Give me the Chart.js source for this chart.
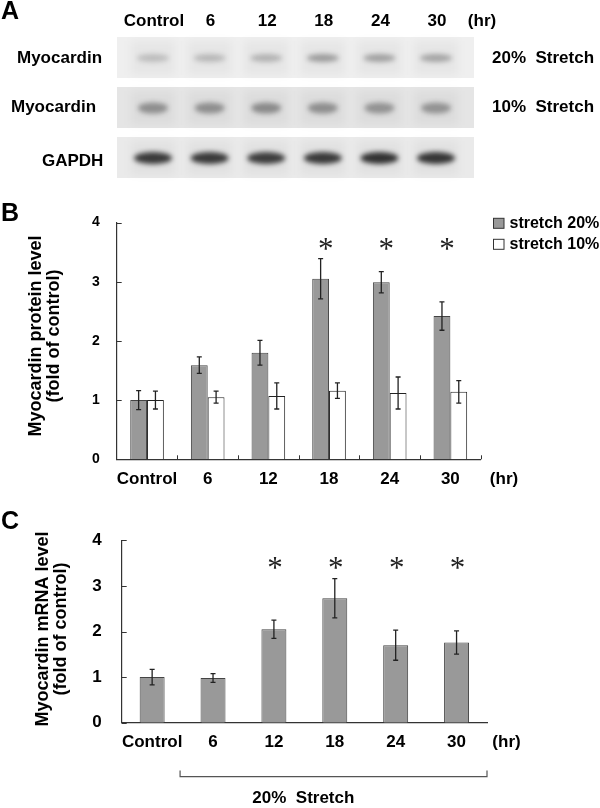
<!DOCTYPE html>
<html>
<head>
<meta charset="utf-8">
<script src="https://cdn.jsdelivr.net/npm/chart.js@4.4.1/dist/chart.umd.min.js"></script>
<style>
    body { margin: 0; background: #fff; }
    #wrap { position: relative; width: 600px; height: 808px; background: #fff; overflow: hidden; }
    canvas { position: absolute; left: 0; }
</style>
</head>
<body>
<div id="wrap">
    <canvas id="blotChart" width="600" height="190" style="top:0px"></canvas>
    <canvas id="proteinChart" width="600" height="310" style="top:190px"></canvas>
    <canvas id="mrnaChart" width="600" height="308" style="top:500px"></canvas>
</div>
<script>
const timeLabels = ['Control', '6', '12', '18', '24', '30'];
const yTicks = [0, 1, 2, 3, 4];

// panel A: band darkness (0 = blank, 1 = black)
const blotRowNames = ['Myocardin', 'Myocardin', 'GAPDH'];
const blotSideNames = ['20%  Stretch', '10%  Stretch', ''];
const band20 = [0.20, 0.22, 0.25, 0.36, 0.34, 0.32];
const band10 = [0.40, 0.40, 0.42, 0.40, 0.38, 0.38];
const bandGapdh = [0.84, 0.84, 0.82, 0.84, 0.88, 0.86];

// panel B: protein, fold of control
const protein20 = [1.00, 1.59, 1.80, 3.05, 2.99, 2.42];
const protein20Err = [0.16, 0.14, 0.21, 0.34, 0.18, 0.24];
const protein10 = [1.00, 1.05, 1.07, 1.16, 1.12, 1.14];
const protein10Err = [0.15, 0.10, 0.22, 0.13, 0.27, 0.19];
const proteinSig = [false, false, false, true, true, true];

// panel C: mRNA, fold of control
const mrna20 = [1.00, 0.98, 2.05, 2.73, 1.70, 1.76];
const mrna20Err = [0.17, 0.095, 0.20, 0.43, 0.33, 0.255];
const mrnaSig = [false, false, true, true, true, true];

const SANS = "'Liberation Sans', Arial, sans-serif";
Chart.defaults.font.family = SANS;
Chart.defaults.color = '#000';

function text(ctx, str, x, y, font, align) {
    ctx.save();
    ctx.font = font;
    ctx.fillStyle = '#000';
    ctx.textAlign = align || 'center';
    ctx.textBaseline = 'middle';
    ctx.fillText(str, x, y);
    ctx.restore();
}

// asterisk centred on its real ink box
function star(ctx, x, y) {
    ctx.save();
    ctx.font = "31px 'Liberation Serif', serif";
    ctx.fillStyle = '#222';
    ctx.textAlign = 'center';
    ctx.textBaseline = 'alphabetic';
    const m = ctx.measureText('*');
    const mid = (m.actualBoundingBoxAscent - m.actualBoundingBoxDescent) / 2;
    ctx.fillText('*', x, y + mid);
    ctx.restore();
}

const errorBars = {
    id: 'errorBars',
    afterDatasetsDraw(chart) {
        const ctx = chart.ctx;
        const y = chart.scales.y;
        chart.data.datasets.forEach((ds, di) => {
            chart.getDatasetMeta(di).data.forEach((bar, i) => {
                const top = y.getPixelForValue(ds.data[i] + ds.errors[i]);
                const bot = y.getPixelForValue(ds.data[i] - ds.errors[i]);
                ctx.save();
                ctx.strokeStyle = '#222';
                ctx.lineWidth = 1.3;
                ctx.beginPath();
                ctx.moveTo(bar.x, top); ctx.lineTo(bar.x, bot);
                ctx.moveTo(bar.x - 2.5, top); ctx.lineTo(bar.x + 2.5, top);
                ctx.moveTo(bar.x - 2.5, bot); ctx.lineTo(bar.x + 2.5, bot);
                ctx.stroke();
                ctx.restore();
            });
        });
    }
};

// y ticks point into the plot
function innerYTicks(chart) {
    const ctx = chart.ctx, y = chart.scales.y, left = chart.chartArea.left;
    ctx.save();
    ctx.strokeStyle = '#333';
    ctx.lineWidth = 1;
    ctx.beginPath();
    yTicks.forEach(t => {
        const py = Math.round(y.getPixelForValue(t)) + 0.5;
        ctx.moveTo(left, py); ctx.lineTo(left + 5, py);
    });
    ctx.stroke();
    ctx.restore();
}

// ---------- A: western blot ----------
const blotDraw = {
    id: 'blotDraw',
    beforeDatasetsDraw(chart) {
        const ctx = chart.ctx, x = chart.scales.x, y = chart.scales.y;
        const stripFill = ['#efefef', '#e5e5e5', '#eaeaea'];
        blotRowNames.forEach((n, r) => {
            const left = x.getPixelForValue(0) - 36;
            const right = x.getPixelForValue(timeLabels.length - 1) + 38;
            const cy = y.getPixelForValue(r);
            ctx.save();
            ctx.fillStyle = stripFill[r];
            ctx.fillRect(left, cy - 21, right - left, 41);
            // faint lane smear
            ctx.filter = 'blur(4px)';
            ctx.fillStyle = 'rgba(0,0,0,0.035)';
            timeLabels.forEach((t, i) => {
                const px = x.getPixelForValue(i);
                ctx.fillRect(px - 22, cy - 17, 44, 34);
            });
            ctx.restore();
        });
    },
    afterDatasetsDraw(chart) {
        const ctx = chart.ctx;
        const rx = [16, 15, 19], ry = [4, 5.5, 6];
        chart.data.datasets.forEach((ds, r) => {
            chart.getDatasetMeta(r).data.forEach((pt, i) => {
                ctx.save();
                ctx.filter = 'blur(2.5px)';
                ctx.fillStyle = 'rgba(25,25,25,' + ds.intensity[i] + ')';
                ctx.beginPath();
                ctx.ellipse(pt.x, pt.y, rx[r], ry[r], 0, 0, Math.PI * 2);
                ctx.fill();
                ctx.restore();
            });
        });
    },
    afterDraw(chart) {
        const ctx = chart.ctx, x = chart.scales.x, y = chart.scales.y;
        const f = 'bold 17px ' + SANS;
        text(ctx, 'A', 1, 12, 'bold 25px ' + SANS, 'left');
        timeLabels.forEach((t, i) => text(ctx, t, x.getPixelForValue(i) + 1, 21, f));
        text(ctx, '(hr)', x.getPixelForValue(timeLabels.length - 1) + 46, 21, f);
        const leftX = [17, 11, 42], dy = [0, -1, 3];
        blotRowNames.forEach((n, r) => {
            const cy = y.getPixelForValue(r) + dy[r];
            text(ctx, n, leftX[r], cy, f, 'left');
            if (blotSideNames[r]) text(ctx, blotSideNames[r], 492, cy, f, 'left');
        });
    }
};

new Chart(document.getElementById('blotChart'), {
    type: 'scatter',
    data: {
        datasets: [band20, band10, bandGapdh].map((row, r) => ({
            label: blotRowNames[r],
            data: row.map((v, i) => ({ x: i, y: r })),
            intensity: row,
            pointRadius: 0
        }))
    },
    options: {
        responsive: false,
        animation: false,
        layout: { padding: { left: 124.7, right: 135.7, top: 33, bottom: 7 } },
        plugins: { legend: { display: false }, tooltip: { enabled: false } },
        scales: {
            x: { type: 'linear', display: false, min: -0.5, max: 5.5 },
            y: { type: 'linear', display: false, min: -0.5, max: 2.5, reverse: true }
        }
    },
    plugins: [blotDraw]
});

// ---------- B: protein level ----------
const proteinDecor = {
    id: 'proteinDecor',
    afterDraw(chart) {
        const ctx = chart.ctx, x = chart.scales.x, y = chart.scales.y;
        const bottom = chart.chartArea.bottom;
        innerYTicks(chart);
        ctx.save();
        ctx.strokeStyle = '#333';
        ctx.lineWidth = 1;
        ctx.beginPath();
        timeLabels.forEach((t, i) => {
            const px = Math.round(x.getPixelForValue(i + 0.5)) + 0.5;
            ctx.moveTo(px, bottom); ctx.lineTo(px, bottom - 4);
        });
        ctx.stroke();
        ctx.restore();

        const bars = chart.getDatasetMeta(0).data;
        proteinSig.forEach((s, i) => { if (s) star(ctx, bars[i].x + 5, y.getPixelForValue(3.63)); });

        // legend
        const f = 'bold 16px ' + SANS;
        chart.data.datasets.forEach((ds, i) => {
            const cy = 33.3 + i * 21;
            ctx.save();
            ctx.fillStyle = ds.backgroundColor;
            ctx.strokeStyle = '#333';
            ctx.lineWidth = 1;
            ctx.fillRect(493.5, cy - 5, 10.5, 10);
            ctx.strokeRect(493.5, cy - 5, 10.5, 10);
            ctx.restore();
            text(ctx, ds.label, 509.5, cy, f, 'left');
        });
        text(ctx, '(hr)', 504, 289, 'bold 17px ' + SANS);
        text(ctx, 'B', 1, 24, 'bold 25px ' + SANS, 'left');
    }
};

new Chart(document.getElementById('proteinChart'), {
    type: 'bar',
    data: {
        labels: timeLabels,
        datasets: [
            { label: 'stretch 20%', data: protein20, errors: protein20Err, backgroundColor: '#999999', borderColor: '#444', borderWidth: 1 },
            { label: 'stretch 10%', data: protein10, errors: protein10Err, backgroundColor: '#ffffff', borderColor: '#222', borderWidth: 1 }
        ]
    },
    options: {
        responsive: false,
        animation: false,
        layout: { padding: { left: 0, right: 119.3, top: 32.5, bottom: 0 } },
        plugins: { legend: { display: false }, tooltip: { enabled: false } },
        datasets: { bar: { categoryPercentage: 0.554, barPercentage: 1.0 } },
        scales: {
            x: {
                grid: { display: false, drawTicks: false },
                border: { display: true, color: '#333', width: 1.2 },
                ticks: { font: { size: 17, weight: 'bold' }, padding: 9.5, maxRotation: 0, autoSkip: false },
                afterFit: s => { s.height = 40.7; }
            },
            y: {
                min: 0, max: 4,
                grid: { display: false, drawTicks: false },
                border: { display: true, color: '#333', width: 1.2 },
                ticks: { stepSize: 1, font: { size: 14, weight: 'bold' }, padding: 17 },
                title: {
                    display: true,
                    // leading spaces nudge the centred title up a little, as in the figure
                    text: ['\u00a0\u00a0Myocardin protein level', '\u00a0\u00a0(fold of control)'],
                    font: { size: 18, weight: 'bold', lineHeight: '18px' },
                    padding: { top: 27.25, bottom: 0 }
                },
                afterFit: s => { s.width = 116.7; }
            }
        }
    },
    plugins: [errorBars, proteinDecor]
});

// ---------- C: mRNA level ----------
const mrnaDecor = {
    id: 'mrnaDecor',
    afterDraw(chart) {
        const ctx = chart.ctx, x = chart.scales.x, y = chart.scales.y;
        innerYTicks(chart);
        const bars = chart.getDatasetMeta(0).data;
        mrnaSig.forEach((s, i) => { if (s) star(ctx, bars[i].x + 1, y.getPixelForValue(3.5)); });
        text(ctx, '(hr)', 506.5, 242.5, 'bold 17px ' + SANS);

        // bracket under the stretched time points
        const l = x.getPixelForValue(0.5) - 2.5, r = x.getPixelForValue(5.5);
        ctx.save();
        ctx.strokeStyle = '#555';
        ctx.lineWidth = 1.2;
        ctx.beginPath();
        ctx.moveTo(l, 270.5); ctx.lineTo(l, 276.7); ctx.lineTo(r, 276.7); ctx.lineTo(r, 270.5);
        ctx.stroke();
        ctx.restore();
        text(ctx, '20%  Stretch', x.getPixelForValue(2.5) - 1, 298, 'bold 17px ' + SANS);
        text(ctx, 'C', 1, 22, 'bold 25px ' + SANS, 'left');
    }
};

new Chart(document.getElementById('mrnaChart'), {
    type: 'bar',
    data: {
        labels: timeLabels,
        datasets: [
            { label: 'stretch 20%', data: mrna20, errors: mrna20Err, backgroundColor: '#999999', borderColor: '#444', borderWidth: 1 }
        ]
    },
    options: {
        responsive: false,
        animation: false,
        layout: { padding: { left: 0, right: 113, top: 40.3, bottom: 0 } },
        plugins: { legend: { display: false }, tooltip: { enabled: false } },
        datasets: { bar: { categoryPercentage: 1.0, barPercentage: 0.41 } },
        scales: {
            x: {
                grid: { display: false, drawTicks: false },
                border: { display: true, color: '#333', width: 1.2 },
                ticks: { font: { size: 17, weight: 'bold' }, padding: 9.3, maxRotation: 0, autoSkip: false },
                afterFit: s => { s.height = 85.3; }
            },
            y: {
                min: 0, max: 4,
                grid: { display: false, drawTicks: false },
                border: { display: true, color: '#333', width: 1.2 },
                ticks: { stepSize: 1, font: { size: 17, weight: 'bold' }, padding: 20 },
                title: {
                    display: true,
                    text: ['\u00a0Myocardin mRNA level', '\u00a0(fold of control)'],
                    font: { size: 18, weight: 'bold', lineHeight: '18px' },
                    padding: { top: 34.25, bottom: 0 }
                },
                afterFit: s => { s.width = 121.7; }
            }
        }
    },
    plugins: [errorBars, mrnaDecor]
});
</script>
</body>
</html>
